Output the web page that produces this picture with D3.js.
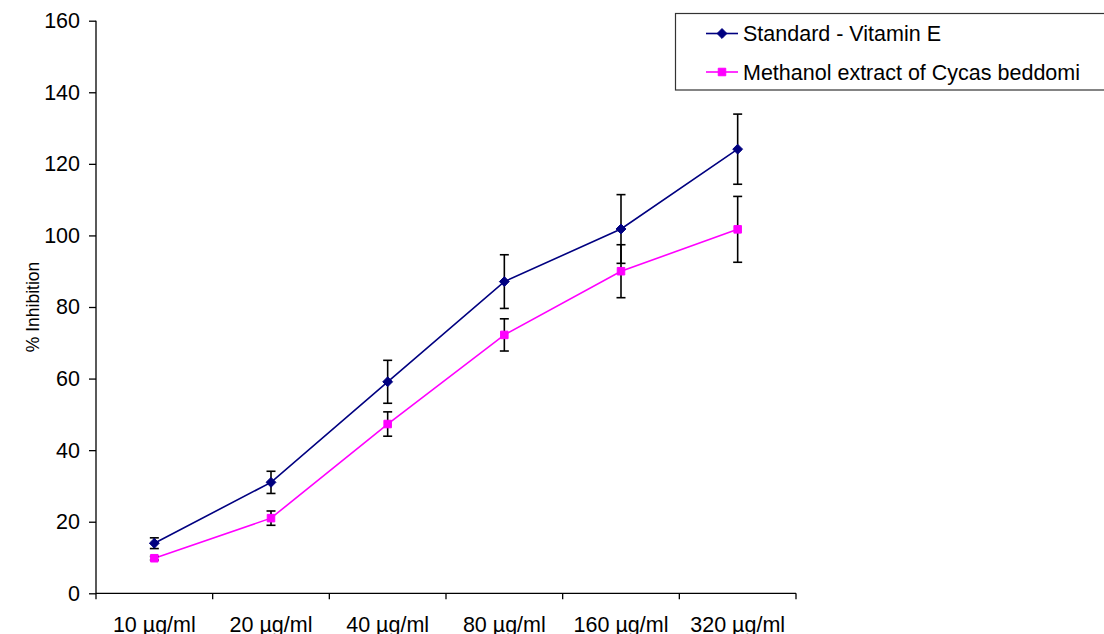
<!DOCTYPE html>
<html>
<head>
<meta charset="utf-8">
<script src="https://cdn.jsdelivr.net/npm/d3@7"></script>
<style>
  html, body { margin: 0; padding: 0; background: #fff; }
  svg { display: block; font-family: "Liberation Sans", Arial, sans-serif; }
</style>
</head>
<body>
<svg id="chart" width="1104" height="634"></svg>
<script>
// Concentrations tested
const categories = ["10 µg/ml", "20 µg/ml", "40 µg/ml", "80 µg/ml", "160 µg/ml", "320 µg/ml"];

// % inhibition, mean values
const vitaminE = [14.0, 31.0, 59.1, 87.1, 101.8, 124.1];
const methanolExtract = [9.8, 21.0, 47.3, 72.2, 90.0, 101.7];

// Error (± SD)
const vitaminEErr = [1.5, 3.1, 6.0, 7.5, 9.6, 9.8];
const methanolErr = [0.5, 2.0, 3.4, 4.5, 7.4, 9.2];

const yTicks = [0, 20, 40, 60, 80, 100, 120, 140, 160];

const seriesNames = ["Standard - Vitamin E", "Methanol extract of Cycas beddomi"];
const seriesColors = ["#000080", "#FF00FF"];

const svg = d3.select("#chart");
const plot = { left: 96, right: 796, top: 20.7, bottom: 593.3 };

const x = d3.scaleBand().domain(categories).range([plot.left, plot.right]);
const y = d3.scaleLinear().domain([0, 160]).range([plot.bottom, plot.top]);

// Y axis
const yAxis = svg.append("g")
  .attr("transform", `translate(${plot.left},0)`)
  .call(d3.axisLeft(y).tickValues(yTicks).tickSize(7).tickPadding(9));
yAxis.select(".domain").attr("stroke", "#000").attr("stroke-width", 1.3).attr("d", `M0,${plot.top}V${plot.bottom}`);
yAxis.selectAll(".tick line").attr("stroke", "#000").attr("stroke-width", 1.3);
yAxis.selectAll(".tick text").attr("font-size", 21.5).attr("fill", "#000");

// X axis with ticks at category boundaries
const xAxis = svg.append("g")
  .attr("transform", `translate(0,${plot.bottom})`);
xAxis.append("line")
  .attr("x1", plot.left).attr("x2", plot.right)
  .attr("stroke", "#000").attr("stroke-width", 1.3);
const bounds = categories.map(c => x(c)).concat([x(categories[categories.length - 1]) + x.bandwidth()]);
xAxis.selectAll("line.tk").data(bounds).join("line").attr("class", "tk")
  .attr("x1", d => d).attr("x2", d => d).attr("y1", 0).attr("y2", 6)
  .attr("stroke", "#000").attr("stroke-width", 1.3);
xAxis.selectAll("text").data(categories).join("text")
  .attr("x", d => x(d) + x.bandwidth() / 2)
  .attr("y", 39)
  .attr("text-anchor", "middle")
  .attr("font-size", 21.5)
  .attr("fill", "#000")
  .text(d => d);

// Y axis title
svg.append("text")
  .attr("transform", `translate(39,307) rotate(-90)`)
  .attr("text-anchor", "middle")
  .attr("font-size", 17.5)
  .attr("fill", "#000")
  .text("% Inhibition");

const cx = c => x(c) + x.bandwidth() / 2;
const series = [
  { name: seriesNames[0], values: vitaminE, err: vitaminEErr, color: seriesColors[0] },
  { name: seriesNames[1], values: methanolExtract, err: methanolErr, color: seriesColors[1] }
];
const markerFor = i => i === 0
  ? d3.symbol().type(d3.symbolDiamond2).size(62)
  : d3.symbol().type(d3.symbolSquare2).size(72);

const line = d3.line().x(d => cx(d.c)).y(d => y(d.v));

series.forEach(s => {
  const pts = categories.map((c, i) => ({ c, v: s.values[i], e: s.err[i] }));
  svg.append("path").datum(pts)
    .attr("d", line).attr("fill", "none")
    .attr("stroke", s.color).attr("stroke-width", 1.6);
});

// Error bars
series.forEach(s => {
  const pts = categories.map((c, i) => ({ c, v: s.values[i], e: s.err[i] }));
  const g = svg.append("g").attr("stroke", "#000").attr("stroke-width", 1.6);
  pts.forEach(p => {
    const px = cx(p.c), yt = y(p.v + p.e), yb = y(p.v - p.e);
    g.append("line").attr("x1", px).attr("x2", px).attr("y1", yt).attr("y2", yb);
    g.append("line").attr("x1", px - 4.5).attr("x2", px + 4.5).attr("y1", yt).attr("y2", yt);
    g.append("line").attr("x1", px - 4.5).attr("x2", px + 4.5).attr("y1", yb).attr("y2", yb);
  });
});

// Markers
series.forEach((s, si) => {
  const pts = categories.map((c, i) => ({ c, v: s.values[i] }));
  svg.append("g").selectAll("path").data(pts).join("path")
    .attr("d", markerFor(si))
    .attr("transform", d => `translate(${cx(d.c)},${y(d.v)})`)
    .attr("fill", s.color).attr("stroke", s.color).attr("stroke-width", 1);
});

// Legend
const legend = svg.append("g");
legend.append("rect")
  .attr("x", 675.5).attr("y", 13.5).attr("width", 440).attr("height", 76.5)
  .attr("fill", "#fff").attr("stroke", "#333").attr("stroke-width", 1.2);
series.forEach((s, i) => {
  const ly = 33.5 + i * 38.5;
  legend.append("line").attr("x1", 706).attr("x2", 738).attr("y1", ly).attr("y2", ly)
    .attr("stroke", s.color).attr("stroke-width", 1.6);
  legend.append("path").attr("d", markerFor(i)).attr("transform", `translate(722,${ly})`)
    .attr("fill", s.color).attr("stroke", s.color).attr("stroke-width", 1);
  legend.append("text").attr("x", 743).attr("y", ly).attr("dy", "0.35em")
    .attr("font-size", 21.5).attr("fill", "#000").text(s.name);
});
</script>
</body>
</html>
